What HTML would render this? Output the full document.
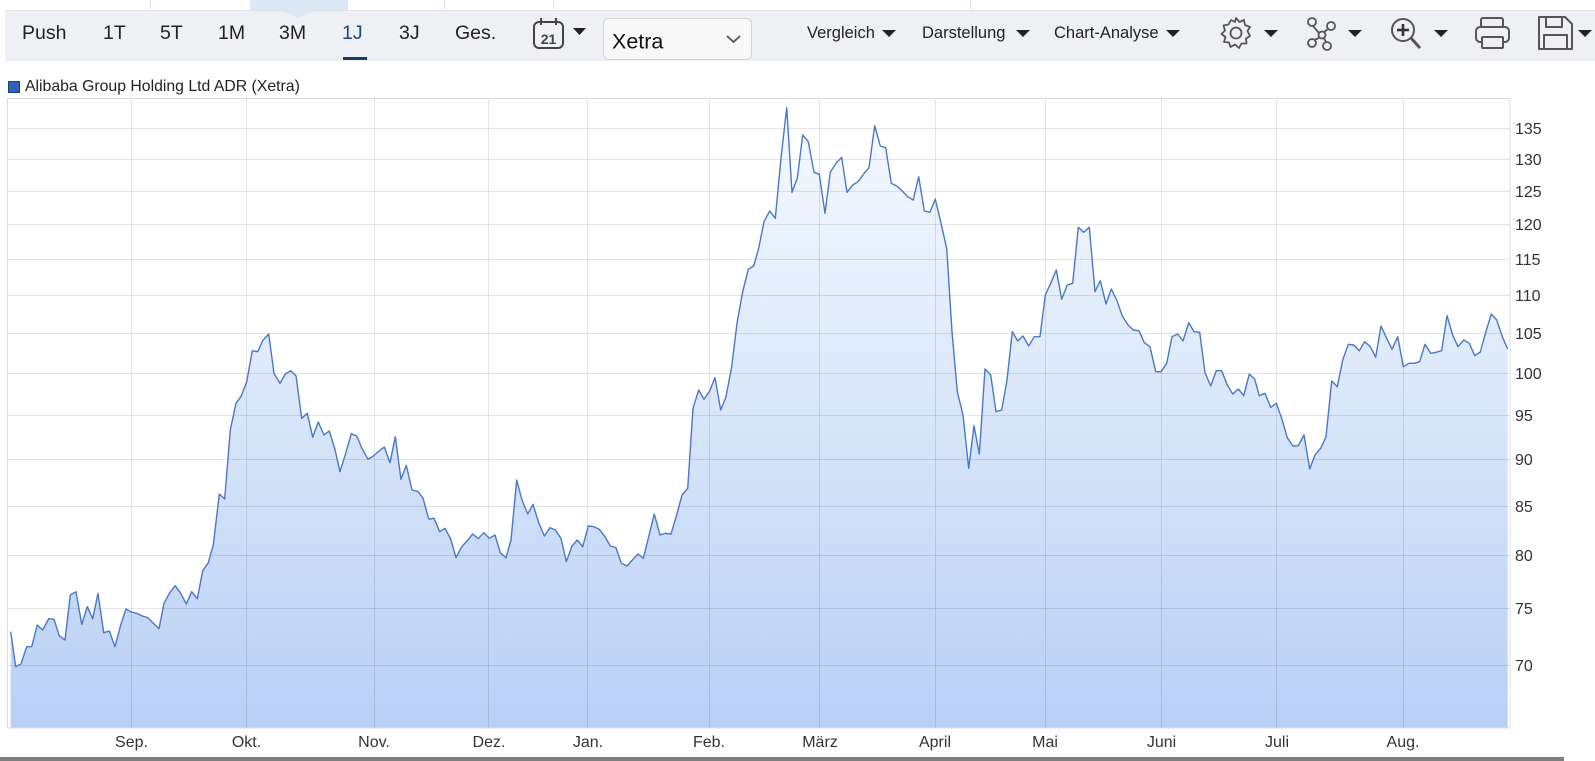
<!DOCTYPE html>
<html><head><meta charset="utf-8">
<style>
html,body{margin:0;padding:0;background:#fff;width:1595px;height:761px;overflow:hidden;font-family:"Liberation Sans",Arial,sans-serif;}
.t{position:absolute;white-space:nowrap;color:#222;}
.tb{font-size:19.5px;top:23px;line-height:20px;}
.tr{font-size:16.5px;top:24px;line-height:18px;}
</style></head><body>
<!-- top strip -->
<div style="position:absolute;left:5px;top:0;width:1590px;height:10px;background:#fff;border-bottom:1px solid #dfe3e8;"></div>
<div style="position:absolute;left:250px;top:0;width:98px;height:10px;background:#dce8f6;"></div>
<div style="position:absolute;left:150px;top:0;width:1px;height:10px;background:#dfe3e8;"></div>
<div style="position:absolute;left:444px;top:0;width:1px;height:10px;background:#dfe3e8;"></div>
<div style="position:absolute;left:553px;top:0;width:1px;height:10px;background:#dfe3e8;"></div>
<div style="position:absolute;left:970px;top:0;width:1px;height:10px;background:#dfe3e8;"></div>
<!-- toolbar -->
<div style="position:absolute;left:5px;top:11px;width:1590px;height:50px;background:#eef0f3;"></div>
<svg style="position:absolute;left:0;top:0" width="1595" height="62">
<polygon points="281,11 315,11 298,18" fill="#dce8f6"/>
</svg>
<div class="t tb" style="left:22px">Push</div>
<div class="t tb" style="left:103px">1T</div>
<div class="t tb" style="left:160px">5T</div>
<div class="t tb" style="left:218px">1M</div>
<div class="t tb" style="left:279px">3M</div>
<div class="t tb" style="left:342px;color:#1d4a78">1J</div>
<div style="position:absolute;left:343px;top:57px;width:24px;height:3px;background:#1a3d5f;"></div>
<div class="t tb" style="left:399px">3J</div>
<div class="t tb" style="left:455px">Ges.</div>
<!-- calendar icon -->
<svg style="position:absolute;left:0;top:0" width="1595" height="62">
<rect x="534" y="22" width="29" height="26" rx="5" fill="none" stroke="#444" stroke-width="2"/>
<line x1="541" y1="18" x2="541" y2="25" stroke="#444" stroke-width="2"/>
<line x1="556" y1="18" x2="556" y2="25" stroke="#444" stroke-width="2"/>
<text x="548.5" y="44" font-family="Liberation Sans,Arial,sans-serif" font-size="14" font-weight="bold" fill="#444" text-anchor="middle">21</text>
<polygon points="573,28 586,28 579.5,35" fill="#222"/>
<!-- dropdown -->
<rect x="603.5" y="18.5" width="148" height="41" rx="5" fill="#f8f8f8" stroke="#cfd3d8"/>
<text x="612" y="48.5" font-family="Liberation Sans,Arial,sans-serif" font-size="21.5" fill="#111">Xetra</text>
<polyline points="727,36 733.5,42 740,36" fill="none" stroke="#555" stroke-width="1.8"/>
<!-- right triangles -->
<polygon points="882,30 896,30 889,37" fill="#222"/>
<polygon points="1016,30 1030,30 1023,37" fill="#222"/>
<polygon points="1166,30 1180,30 1173,37" fill="#222"/>
<polygon points="1264,30 1278,30 1271,37" fill="#222"/>
<polygon points="1348,30 1362,30 1355,37" fill="#222"/>
<polygon points="1434,30 1448,30 1441,37" fill="#222"/>
<polygon points="1578,30 1592,30 1585,37" fill="#222"/>
<!-- gear -->
<g transform="translate(1236,33)" fill="none" stroke="#555" stroke-width="1.8" stroke-linejoin="round">
<polygon points="0,-15 3.5,-11 8,-13 9,-8 14,-6 11.5,-2 14,3 10,5.5 10.5,10.5 5.5,10.5 3,15 -1,11.5 -5.5,14 -7,9.5 -12,9 -10.5,4 -14.5,1 -11,-2.5 -12.5,-7.5 -7.5,-8.5 -5,-13 -1,-11"/>
<circle r="5.5"/>
</g>
<!-- network -->
<g fill="none" stroke="#555" stroke-width="1.8">
<circle cx="1312" cy="22" r="4"/>
<circle cx="1331" cy="26" r="4"/>
<circle cx="1322" cy="35" r="3.5"/>
<circle cx="1312" cy="43" r="4"/>
<circle cx="1327" cy="46" r="4"/>
<line x1="1313" y1="26" x2="1319" y2="33"/>
<line x1="1328" y1="29" x2="1324" y2="32"/>
<line x1="1319" y1="38" x2="1314" y2="40"/>
<line x1="1324" y1="38" x2="1326" y2="42"/>
</g>
<!-- zoom -->
<g fill="none" stroke="#555" stroke-width="2">
<circle cx="1403" cy="30" r="11"/>
<line x1="1411" y1="38" x2="1420" y2="48" stroke-width="3"/>
<line x1="1403" y1="24" x2="1403" y2="36" stroke="#333" stroke-width="2.6"/>
<line x1="1397" y1="30" x2="1409" y2="30" stroke="#333" stroke-width="2.6"/>
</g>
<!-- printer -->
<g fill="none" stroke="#555" stroke-width="2" stroke-linejoin="round" transform="translate(10,0)">
<rect x="1471" y="18" width="22" height="9" rx="2"/>
<rect x="1466" y="27" width="33" height="15" rx="4"/>
<rect x="1472" y="37" width="21" height="11" rx="1" fill="#eef0f3"/>
</g>
<!-- save -->
<g fill="none" stroke="#555" stroke-width="2" stroke-linejoin="round" transform="translate(8,0)">
<path d="M1531,17 H1557 L1564,24 V49 H1531 Z"/>
<rect x="1538" y="17" width="16" height="10"/>
<rect x="1536" y="35" width="23" height="14"/>
</g>
</svg>
<div class="t tr" style="left:807px">Vergleich</div>
<div class="t tr" style="left:922px">Darstellung</div>
<div class="t tr" style="left:1054px">Chart-Analyse</div>
<!-- legend -->
<div style="position:absolute;left:8px;top:81px;width:10px;height:10px;background:#2f62b8;border:1px solid #1c3f80;"></div>
<div class="t" style="left:25px;top:78px;font-size:15.8px;line-height:18px;color:#222;">Alibaba Group Holding Ltd ADR (Xetra)</div>

<svg style="position:absolute;left:0;top:0" width="1595" height="761">
<defs>
<linearGradient id="g" x1="0" y1="98" x2="0" y2="728" gradientUnits="userSpaceOnUse">
<stop offset="0" stop-color="#f7faff"/>
<stop offset="0.45" stop-color="#dce8fa"/>
<stop offset="1" stop-color="#b8cff5"/>
</linearGradient>
</defs>
<path id="area" fill="url(#g)" d="M10.7,728 L10.7,631.7 L15.7,666.7 L21,664 L26.7,646.7 L31.7,646.7 L37.3,625 L42.7,630 L48.7,618.7 L54,619.3 L59.3,635.7 L65,640 L70.3,595 L76,591.7 L81.7,624.3 L87.3,606.7 L92.7,618.7 L98,593.3 L103.7,632.7 L109.3,631 L115,646.7 L120.7,625 L126,609 L131.3,612 L136.7,613.3 L142.3,616 L148,617.7 L153.3,623.3 L159,628.7 L164,603.3 L169.7,592.7 L175.3,585.7 L180.7,593.3 L186.3,604 L191.7,591.7 L197.3,598.7 L202.7,570.7 L208.3,562.7 L213.3,545 L219.3,494 L224.7,499 L230.3,430 L236,403.3 L241.3,396 L246.7,381.7 L252.3,350.7 L257.7,351.7 L262.7,340.7 L268.7,334 L274,373.3 L280,383.3 L285.3,374 L290.7,370.7 L296,375.7 L301.7,418.3 L307.3,413.3 L312.7,437.3 L318.3,422 L324,435 L329.3,431 L334.7,448.3 L340,471.7 L345.7,453.3 L351.3,433.7 L356.7,436 L362.3,449 L368,459.3 L373.3,456 L379,451 L384.3,447 L390,462.7 L395.3,436.7 L401,479.3 L406.3,465.3 L412,490 L417.7,491.3 L423,498 L428.7,519 L434,518.3 L439.7,531.7 L445,528.3 L450.7,539 L456,557.7 L461.7,546.7 L467.3,540.7 L472.7,534 L478.3,538.7 L483.7,532.7 L489.3,538.3 L495,535 L500.3,552.7 L506,557.7 L511,540 L516.7,480 L522,500 L527.7,514 L533,504.3 L538.7,522.7 L544.3,536 L550,527.7 L555.3,530 L561,538.3 L566.3,561.7 L572,546 L577.3,540 L582.7,546.7 L588.3,526 L594,526.7 L599.3,529.3 L605,536.7 L610.3,546 L616,547.7 L621.3,563.3 L627,566 L632.3,560 L638,554 L643.3,558.3 L648.7,536.7 L654.3,514 L660,535 L665.3,533.3 L671,534 L676.7,515 L682,495 L687.7,488.3 L693,408.3 L698.7,390 L704,399.3 L709.7,390.7 L715,377.7 L720.7,410 L726,396.7 L731.7,366.7 L737,323.3 L742.7,291.7 L748.3,269.3 L753.7,266 L758.7,248.3 L764,221.7 L769.7,211 L775.3,218.3 L781,158.3 L786.7,107.7 L792,192.3 L797.3,178.3 L802.7,135 L808.3,141.7 L814,172.3 L819.3,174.3 L825,213.3 L830.3,172.3 L836,163.3 L841.7,157.3 L847,192.3 L852.7,185 L858,181.7 L863.7,174 L869,167.7 L874.7,125.7 L880.3,146 L885.7,147.7 L891.3,183.3 L896.7,186 L902.3,191 L907.7,196.7 L913.3,200 L918.7,176.7 L924.3,211 L930,212.3 L935.3,199 L941,223.3 L946.7,248.3 L952,331.7 L957.3,391.7 L963,415 L968.7,468.3 L974,425.7 L979.3,454 L985,369 L990.7,375 L996,411.7 L1001.7,410 L1007,380 L1012.3,331.7 L1017.7,341 L1023,336 L1028.7,346 L1034.3,336.7 L1040,336.7 L1045.3,295 L1050.7,283.3 L1056.3,270 L1061.7,299.3 L1067.3,285 L1072.7,283.3 L1078.3,227.3 L1083.7,232.3 L1089.3,227.3 L1095,291.7 L1100.3,280.7 L1106,304 L1111.3,289 L1117,300.7 L1122.3,316 L1128,325 L1133.3,330 L1139,330.7 L1144.3,342.7 L1150,346.7 L1155.7,371.7 L1161,371.7 L1166.7,363.3 L1172,336.7 L1177.7,334 L1183,341 L1188.7,322.7 L1194,331.7 L1199.7,332.3 L1205,372.7 L1210.7,386 L1216.3,370.7 L1221.7,370.7 L1227.3,385 L1232.7,394 L1238.3,389 L1243.7,395.7 L1249.3,374 L1254.7,379.3 L1259.3,395.7 L1265,393.3 L1270.7,407.3 L1276.3,403.3 L1281.7,418.3 L1287.3,437.7 L1293,446 L1298.3,445.7 L1304,435 L1309.7,469 L1315,455 L1320.7,448.3 L1326,436.7 L1331.7,381 L1337.3,386.7 L1342.7,360 L1348.3,344.3 L1353.7,345 L1359.3,350.7 L1364.7,341.7 L1370.3,346.7 L1375.7,357.3 L1381,326 L1386.7,338.3 L1392,349.3 L1397.7,336.7 L1403.3,366.7 L1408.7,363.3 L1414,363.3 L1419.7,361.7 L1425,344.3 L1430.7,353.3 L1436,352.3 L1441.7,350.7 L1447,315.7 L1452.7,335 L1458,346.7 L1463.7,340 L1469.3,343.3 L1474.7,355.7 L1480.3,352 L1485.7,332.3 L1491.3,314 L1496.7,320 L1502.3,336.7 L1507.7,349 L1507.7,728 Z"/>
<g stroke="rgba(0,0,0,0.1)" stroke-width="1" fill="none">
<line x1="8" y1="128.5" x2="1510" y2="128.5"/>
<line x1="8" y1="159.5" x2="1510" y2="159.5"/>
<line x1="8" y1="191.5" x2="1510" y2="191.5"/>
<line x1="8" y1="224.5" x2="1510" y2="224.5"/>
<line x1="8" y1="259.5" x2="1510" y2="259.5"/>
<line x1="8" y1="295.5" x2="1510" y2="295.5"/>
<line x1="8" y1="333.5" x2="1510" y2="333.5"/>
<line x1="8" y1="373.5" x2="1510" y2="373.5"/>
<line x1="8" y1="415.5" x2="1510" y2="415.5"/>
<line x1="8" y1="459.5" x2="1510" y2="459.5"/>
<line x1="8" y1="506.5" x2="1510" y2="506.5"/>
<line x1="8" y1="555.5" x2="1510" y2="555.5"/>
<line x1="8" y1="608.5" x2="1510" y2="608.5"/>
<line x1="8" y1="665.5" x2="1510" y2="665.5"/>
<line x1="131.5" y1="98" x2="131.5" y2="728"/>
<line x1="246.5" y1="98" x2="246.5" y2="728"/>
<line x1="374.5" y1="98" x2="374.5" y2="728"/>
<line x1="488.5" y1="98" x2="488.5" y2="728"/>
<line x1="587.5" y1="98" x2="587.5" y2="728"/>
<line x1="709.5" y1="98" x2="709.5" y2="728"/>
<line x1="819.5" y1="98" x2="819.5" y2="728"/>
<line x1="935.5" y1="98" x2="935.5" y2="728"/>
<line x1="1045.5" y1="98" x2="1045.5" y2="728"/>
<line x1="1161.5" y1="98" x2="1161.5" y2="728"/>
<line x1="1276.5" y1="98" x2="1276.5" y2="728"/>
<line x1="1403.5" y1="98" x2="1403.5" y2="728"/>
</g>
<rect x="7.5" y="98.5" width="1502.5" height="629.5" fill="none" stroke="#dcdcdc" stroke-width="1"/>
<polyline fill="none" stroke="#4a78c6" stroke-width="1.4" stroke-linejoin="round" points="10.7,631.7 15.7,666.7 21,664 26.7,646.7 31.7,646.7 37.3,625 42.7,630 48.7,618.7 54,619.3 59.3,635.7 65,640 70.3,595 76,591.7 81.7,624.3 87.3,606.7 92.7,618.7 98,593.3 103.7,632.7 109.3,631 115,646.7 120.7,625 126,609 131.3,612 136.7,613.3 142.3,616 148,617.7 153.3,623.3 159,628.7 164,603.3 169.7,592.7 175.3,585.7 180.7,593.3 186.3,604 191.7,591.7 197.3,598.7 202.7,570.7 208.3,562.7 213.3,545 219.3,494 224.7,499 230.3,430 236,403.3 241.3,396 246.7,381.7 252.3,350.7 257.7,351.7 262.7,340.7 268.7,334 274,373.3 280,383.3 285.3,374 290.7,370.7 296,375.7 301.7,418.3 307.3,413.3 312.7,437.3 318.3,422 324,435 329.3,431 334.7,448.3 340,471.7 345.7,453.3 351.3,433.7 356.7,436 362.3,449 368,459.3 373.3,456 379,451 384.3,447 390,462.7 395.3,436.7 401,479.3 406.3,465.3 412,490 417.7,491.3 423,498 428.7,519 434,518.3 439.7,531.7 445,528.3 450.7,539 456,557.7 461.7,546.7 467.3,540.7 472.7,534 478.3,538.7 483.7,532.7 489.3,538.3 495,535 500.3,552.7 506,557.7 511,540 516.7,480 522,500 527.7,514 533,504.3 538.7,522.7 544.3,536 550,527.7 555.3,530 561,538.3 566.3,561.7 572,546 577.3,540 582.7,546.7 588.3,526 594,526.7 599.3,529.3 605,536.7 610.3,546 616,547.7 621.3,563.3 627,566 632.3,560 638,554 643.3,558.3 648.7,536.7 654.3,514 660,535 665.3,533.3 671,534 676.7,515 682,495 687.7,488.3 693,408.3 698.7,390 704,399.3 709.7,390.7 715,377.7 720.7,410 726,396.7 731.7,366.7 737,323.3 742.7,291.7 748.3,269.3 753.7,266 758.7,248.3 764,221.7 769.7,211 775.3,218.3 781,158.3 786.7,107.7 792,192.3 797.3,178.3 802.7,135 808.3,141.7 814,172.3 819.3,174.3 825,213.3 830.3,172.3 836,163.3 841.7,157.3 847,192.3 852.7,185 858,181.7 863.7,174 869,167.7 874.7,125.7 880.3,146 885.7,147.7 891.3,183.3 896.7,186 902.3,191 907.7,196.7 913.3,200 918.7,176.7 924.3,211 930,212.3 935.3,199 941,223.3 946.7,248.3 952,331.7 957.3,391.7 963,415 968.7,468.3 974,425.7 979.3,454 985,369 990.7,375 996,411.7 1001.7,410 1007,380 1012.3,331.7 1017.7,341 1023,336 1028.7,346 1034.3,336.7 1040,336.7 1045.3,295 1050.7,283.3 1056.3,270 1061.7,299.3 1067.3,285 1072.7,283.3 1078.3,227.3 1083.7,232.3 1089.3,227.3 1095,291.7 1100.3,280.7 1106,304 1111.3,289 1117,300.7 1122.3,316 1128,325 1133.3,330 1139,330.7 1144.3,342.7 1150,346.7 1155.7,371.7 1161,371.7 1166.7,363.3 1172,336.7 1177.7,334 1183,341 1188.7,322.7 1194,331.7 1199.7,332.3 1205,372.7 1210.7,386 1216.3,370.7 1221.7,370.7 1227.3,385 1232.7,394 1238.3,389 1243.7,395.7 1249.3,374 1254.7,379.3 1259.3,395.7 1265,393.3 1270.7,407.3 1276.3,403.3 1281.7,418.3 1287.3,437.7 1293,446 1298.3,445.7 1304,435 1309.7,469 1315,455 1320.7,448.3 1326,436.7 1331.7,381 1337.3,386.7 1342.7,360 1348.3,344.3 1353.7,345 1359.3,350.7 1364.7,341.7 1370.3,346.7 1375.7,357.3 1381,326 1386.7,338.3 1392,349.3 1397.7,336.7 1403.3,366.7 1408.7,363.3 1414,363.3 1419.7,361.7 1425,344.3 1430.7,353.3 1436,352.3 1441.7,350.7 1447,315.7 1452.7,335 1458,346.7 1463.7,340 1469.3,343.3 1474.7,355.7 1480.3,352 1485.7,332.3 1491.3,314 1496.7,320 1502.3,336.7 1507.7,349"/>
<g font-family="Liberation Sans,Arial,sans-serif" font-size="16" fill="#333">
<text x="1515" y="134">135</text>
<text x="1515" y="165">130</text>
<text x="1515" y="197">125</text>
<text x="1515" y="230">120</text>
<text x="1515" y="265">115</text>
<text x="1515" y="301">110</text>
<text x="1515" y="339">105</text>
<text x="1515" y="379">100</text>
<text x="1515" y="421">95</text>
<text x="1515" y="465">90</text>
<text x="1515" y="512">85</text>
<text x="1515" y="561">80</text>
<text x="1515" y="614">75</text>
<text x="1515" y="671">70</text>
</g>
<g font-family="Liberation Sans,Arial,sans-serif" font-size="16" fill="#333" text-anchor="middle">
<text x="131.5" y="747">Sep.</text>
<text x="246.5" y="747">Okt.</text>
<text x="374" y="747">Nov.</text>
<text x="489" y="747">Dez.</text>
<text x="588" y="747">Jan.</text>
<text x="709" y="747">Feb.</text>
<text x="820" y="747">März</text>
<text x="935" y="747">April</text>
<text x="1045" y="747">Mai</text>
<text x="1161.5" y="747">Juni</text>
<text x="1277" y="747">Juli</text>
<text x="1403" y="747">Aug.</text>
</g>
<rect x="0" y="757" width="1564" height="4" fill="#7f7f7f"/>
</svg>
</body></html>
